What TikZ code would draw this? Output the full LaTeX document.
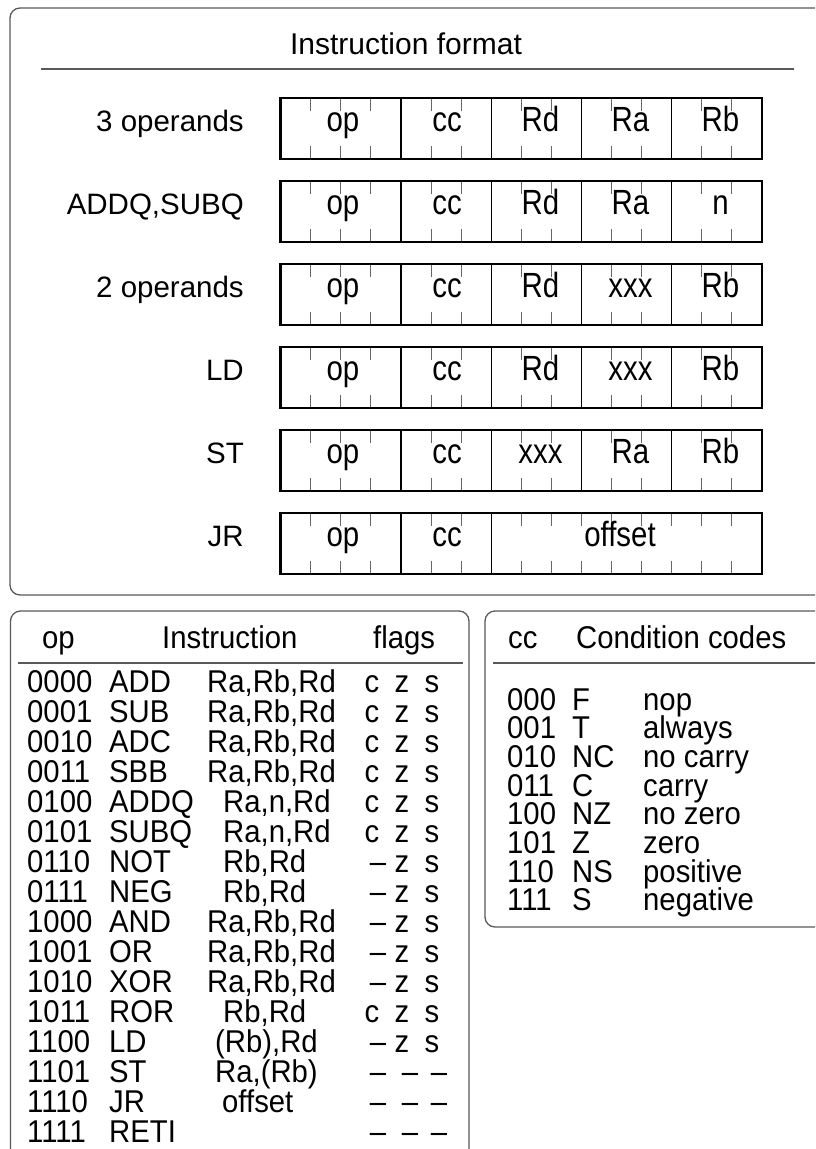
\documentclass[tikz,border=0pt]{standalone}
\usepackage{fontspec}
\setmainfont{Liberation Sans}
\newfontfamily\fieldfont[FakeStretch=0.84]{Liberation Sans}
\newfontfamily\tabfont[FakeStretch=0.93]{Liberation Sans}
\usepackage{tikz}
\usepackage{xcolor}

\definecolor{framegray}{gray}{0.35}
\definecolor{tickgray}{gray}{0.4}

\tikzset{
  frame/.style={draw=framegray,line width=1.3pt,rounded corners=10pt},
  rule/.style={draw=framegray,line width=1.3pt},
  fmtbox/.style={line width=2.8pt},
  fieldsep/.style={line width=1.3pt},
  bittick/.style={draw=tickgray,line width=1pt},
  fieldtxt/.style={anchor=mid,inner sep=0pt,font=\fieldfont\fontsize{35}{40}\selectfont},
  fmtlbl/.style={anchor=mid east,inner sep=0pt,font=\fontsize{29.5}{36}\selectfont},
  tabtxt/.style={anchor=base west,inner sep=0pt,font=\tabfont\fontsize{31.5}{36}\selectfont},
  flagtxt/.style={anchor=base,inner sep=0pt,font=\tabfont\fontsize{31.5}{36}\selectfont},
}

\begin{document}
\begin{tikzpicture}[x=1pt,y=-1pt]
\useasboundingbox (0,0) rectangle (815,1149);
\clip (0,0) rectangle (815,1149);

% the three frames
\draw[frame] (10,8) rectangle (840,595);
\draw[frame] (10.5,611) rectangle (469,1160);
\draw[frame] (485,611) rectangle (840,927);

% instruction format
\node[anchor=base,inner sep=0pt,font=\fontsize{30}{36}\selectfont] (title) at (406,54) {Instruction format};
\draw[rule] (41,69) -- (794,69);

\def\bx{30.08}
\foreach \t/\lbl/\fa/\fb/\fc [count=\i] in {98/3 operands/Rd/Ra/Rb, 181/{ADDQ,SUBQ}/Rd/Ra/n,
    264/2 operands/Rd/xxx/Rb, 347/LD/Rd/xxx/Rb, 430/ST/xxx/Ra/Rb}{
  \node[fmtlbl] (lbl\i) at (244,\t+30.5) {\lbl};
  \foreach \b in {1,2,3,5,6,8,9,11,12,14,15}{
    \draw[bittick] (280.7+\b*\bx,\t) -- ++(0,13);
    \draw[bittick] (280.7+\b*\bx,\t+61) -- ++(0,-13);
  }
  \foreach \b in {4,7,10,13}
    \draw[fieldsep] (280.7+\b*\bx,\t) -- ++(0,61);
  \draw[fmtbox] (280.7,\t) rectangle (762,\t+61);
  \node[fieldtxt] (op\i) at (343,\t+30.5) {op};
  \node[fieldtxt] (cc\i) at (447,\t+30.5) {cc};
  \node[fieldtxt] (fa\i) at (540.5,\t+30.5) {\fa};
  \node[fieldtxt] (fb\i) at (630.5,\t+30.5) {\fb};
  \node[fieldtxt] (fc\i) at (720.5,\t+30.5) {\fc};
}
% JR
\node[fmtlbl] (lbl6) at (244,543.5) {JR};
\foreach \b in {1,2,3,5,6,8,9,10,11,12,13,14,15}{
  \draw[bittick] (280.7+\b*\bx,513) -- ++(0,13);
  \draw[bittick] (280.7+\b*\bx,574) -- ++(0,-13);
}
\foreach \b in {4,7}
  \draw[fieldsep] (280.7+\b*\bx,513) -- ++(0,61);
\draw[fmtbox] (280.7,513) rectangle (762,574);
\node[fieldtxt] (op6) at (343,543.5) {op};
\node[fieldtxt] (cc6) at (447,543.5) {cc};
\node[fieldtxt] (offs) at (620,543.5) {offset};

% opcode table
\node[tabtxt] (hop) at (42,648) {op};
\node[tabtxt] (hins) at (162,648) {Instruction};
\node[tabtxt] (hflg) at (373,648) {flags};
\draw[rule] (18,663) -- (463,663);
\foreach \c/\m/\o/\ox [count=\k from 0] in {0000/ADD/{Ra,Rb,Rd}/207, 0001/SUB/{Ra,Rb,Rd}/207,
    0010/ADC/{Ra,Rb,Rd}/207, 0011/SBB/{Ra,Rb,Rd}/207, 0100/ADDQ/{Ra,n,Rd}/223,
    0101/SUBQ/{Ra,n,Rd}/223, 0110/NOT/{Rb,Rd}/223, 0111/NEG/{Rb,Rd}/223,
    1000/AND/{Ra,Rb,Rd}/207, 1001/OR/{Ra,Rb,Rd}/207, 1010/XOR/{Ra,Rb,Rd}/207,
    1011/ROR/{Rb,Rd}/223, 1100/LD/{(Rb),Rd}/215, 1101/ST/{Ra,(Rb)}/215,
    1110/JR/offset/222, 1111/RETI//222}{
  \node[tabtxt] (code\k) at (27,692.5+\k*30) {\c};
  \node[tabtxt] (mn\k) at (109,692.5+\k*30) {\m};
  \node[tabtxt] (ops\k) at (\ox,692.5+\k*30) {\o};
}
% flags
\foreach \k in {0,...,5,11}{
  \node[flagtxt] (fc\k) at (372,692.5+\k*30) {c};
  \node[flagtxt] (fz\k) at (402,692.5+\k*30) {z};
  \node[flagtxt] (fs\k) at (432,692.5+\k*30) {s};
}
\foreach \k in {6,...,10,12}{
  \node[flagtxt] (fc\k) at (378,692.5+\k*30) {\textendash};
  \node[flagtxt] (fz\k) at (402,692.5+\k*30) {z};
  \node[flagtxt] (fs\k) at (432,692.5+\k*30) {s};
}
\foreach \k in {13,14,15}{
  \node[flagtxt] (fc\k) at (378,692.5+\k*30) {\textendash};
  \node[flagtxt] (fz\k) at (410,692.5+\k*30) {\textendash};
  \node[flagtxt] (fs\k) at (439,692.5+\k*30) {\textendash};
}

% condition codes
\node[tabtxt] (hcc) at (508,648) {cc};
\node[tabtxt] (hcond) at (576,648) {Condition codes};
\draw[rule] (493,663) -- (840,663);
\foreach \c/\m/\d [count=\k from 0] in {000/F/nop, 001/T/always, 010/NC/no carry, 011/C/carry,
    100/NZ/no zero, 101/Z/zero, 110/NS/positive, 111/S/negative}{
  \node[tabtxt] (cbit\k) at (507,710+\k*28.7) {\c};
  \node[tabtxt] (cmn\k) at (572,710+\k*28.7) {\m};
  \node[tabtxt] (cdesc\k) at (643,710+\k*28.7) {\d};
}
\end{tikzpicture}
\end{document}
